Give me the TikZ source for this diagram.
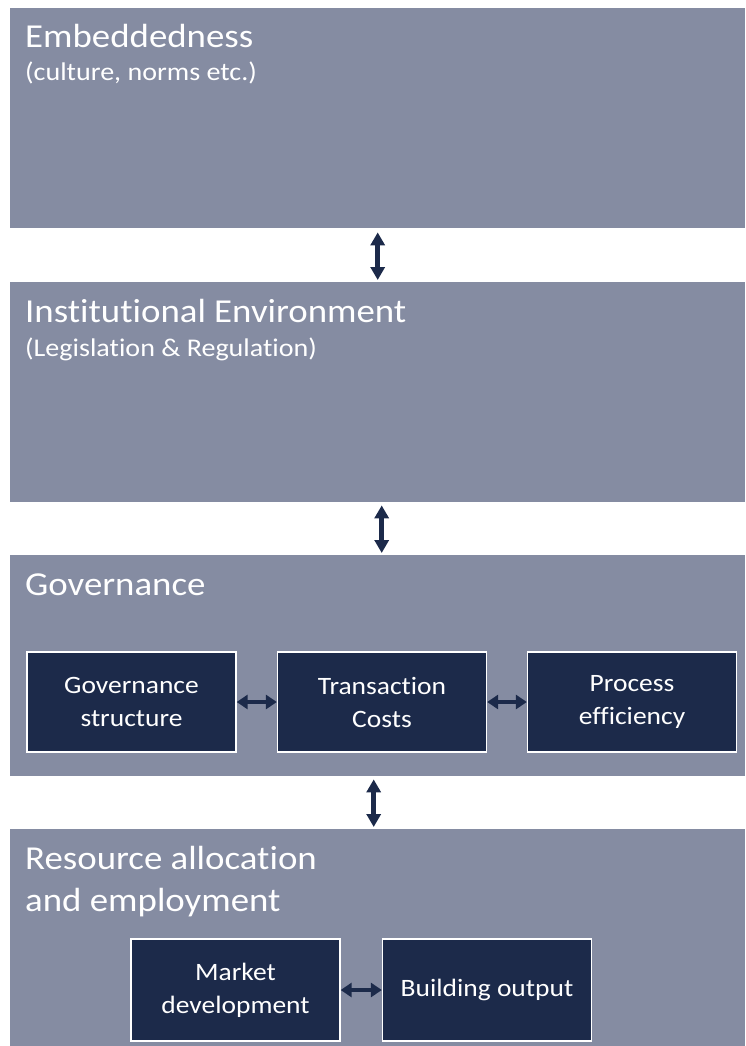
\documentclass[tikz,border=0pt]{standalone}
\usepackage{fontspec}
\setmainfont{Carlito}[FakeStretch=1.1, Ligatures={NoCommon}]
\usepackage{xcolor}
\usepackage{tikz}
\usetikzlibrary{positioning,calc,arrows.meta}

\definecolor{layergrey}{RGB}{133,140,162}
\definecolor{boxnavy}{RGB}{28,42,74}

\tikzset{
  layer/.style={fill=layergrey, draw=none, anchor=north west, minimum width=735pt, inner sep=0pt},
  ltitle/.style={text=white, font=\fontsize{33.5}{38}\selectfont, anchor=base west, inner sep=0pt},
  lsub/.style={text=white, font=\fontsize{25.5}{30}\selectfont, anchor=base west, inner sep=0pt},
  inbox/.style={fill=boxnavy, draw=white, line width=1.3pt, text=white, align=center,
    minimum width=209pt, minimum height=100pt, inner sep=0pt,
    font=\fontsize{25}{33}\selectfont},
  vlink/.style={boxnavy, line width=4.5pt, {Triangle[length=13pt,width=14pt]}-{Triangle[length=13pt,width=14pt]}},
  hlink/.style={boxnavy, line width=4pt, {Triangle[length=11pt,width=14pt]}-{Triangle[length=11pt,width=14pt]}}
}

\begin{document}
\begin{tikzpicture}[x=1pt, y=-1pt]
    \useasboundingbox (0,0) rectangle (745,1046);

    % Layers
    \node[layer, minimum height=220pt] (emb) at (10,8) {};
    \node[layer, minimum height=220pt] (inst) at (10,282) {};
    \node[layer, minimum height=221pt] (gov) at (10,555) {};
    \node[layer, minimum height=217pt] (res) at (10,829) {};

    % Titles
    \node[ltitle] (emb-t) at (25,48) {Embeddedness};
    \node[lsub] (emb-s) at (25,81) {(culture, norms etc.)};
    \node[ltitle] (inst-t) at (25,322) {Institutional Environment};
    \node[lsub] (inst-s) at (25,356) {(Legislation \& Regulation)};
    \node[ltitle] (gov-t) at (25,595) {Governance};
    \node[ltitle] (res-t) at (25,869) {Resource allocation};
    \node[ltitle] (res-t2) at (25,911) {and employment};

    % Governance boxes
    \node[inbox] (gs) at (131.5,702) {Governance\\structure};
    \node[inbox] (tc) at (382,702) {Transaction\\Costs};
    \node[inbox] (pe) at (632,702) {Process\\efficiency};

    % Resource boxes
    \node[inbox, minimum height=102pt] (md) at (235.5,990) {Market\\development};
    \node[inbox, minimum height=102pt] (bo) at (487,990) {Building output};

    % Links between layers
    \draw[vlink] ([yshift=-4pt]emb.south) -- ([yshift=2pt]inst.north);
    \draw[vlink] ([xshift=4pt,yshift=-3pt]inst.south) -- ([xshift=4pt,yshift=2pt]gov.north);
    \draw[vlink] ([xshift=-4pt,yshift=-3pt]gov.south) -- ([xshift=-4pt,yshift=2pt]res.north);

    % Links inside
    \draw[hlink] (gs) -- (tc);
    \draw[hlink] (tc) -- (pe);
    \draw[hlink] (md) -- (bo);
\end{tikzpicture}
\end{document}
